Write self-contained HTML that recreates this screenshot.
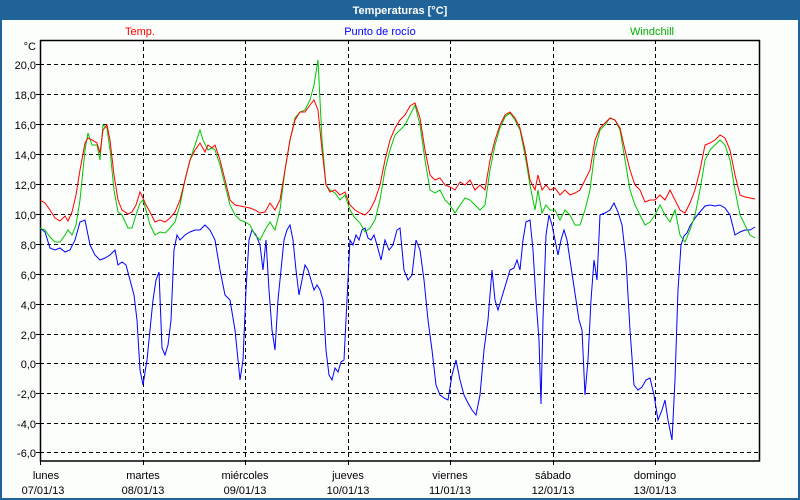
<!DOCTYPE html>
<html><head><meta charset="utf-8"><style>
html,body{margin:0;padding:0;background:#fff}
svg{display:block}
text{font-family:"Liberation Sans",sans-serif;font-size:11px}
</style></head><body>
<svg width="800" height="500" xmlns="http://www.w3.org/2000/svg">
<rect x="0" y="0" width="800" height="500" fill="#1f6399"/>
<rect x="2" y="20" width="796" height="478" fill="#fcfefc"/>
<text x="400" y="14" fill="#fff" font-weight="bold" text-anchor="middle" font-size="12">Temperaturas [°C]</text>
<text x="140" y="35" fill="#ff0000" text-anchor="middle">Temp.</text>
<text x="380" y="35" fill="#0000ff" text-anchor="middle">Punto de rocío</text>
<text x="652" y="35" fill="#00b000" text-anchor="middle">Windchill</text>
<g stroke="#000" stroke-dasharray="4,3" stroke-width="1" fill="none">
<path d="M40 64.5H760M40 94.5H760M40 124.5H760M40 154.5H760M40 184.5H760M40 214.5H760M40 244.5H760M40 274.5H760M40 304.5H760M40 334.5H760M40 363.5H760M40 393.5H760M40 423.5H760M40 452.5H760"/>
<path d="M143.5 40V461M245.5 40V461M348.5 40V461M450.5 40V461M553.5 40V461M655.5 40V461"/>
</g>
<g stroke="#000" stroke-width="1" fill="none">
<path d="M40 64.5H36M40 94.5H36M40 124.5H36M40 154.5H36M40 184.5H36M40 214.5H36M40 244.5H36M40 274.5H36M40 304.5H36M40 334.5H36M40 363.5H36M40 393.5H36M40 423.5H36M40 452.5H36"/>
<path d="M40.5 461V465M143.5 461V465M245.5 461V465M348.5 461V465M450.5 461V465M553.5 461V465M655.5 461V465"/>
</g>
<rect x="40.5" y="40.5" width="719" height="420.5" fill="none" stroke="#000" stroke-width="1.5"/>
<g text-anchor="end" fill="#000">
<text x="36" y="50">°C</text>
<text x="36" y="69">20,0</text><text x="36" y="99">18,0</text><text x="36" y="129">16,0</text><text x="36" y="159">14,0</text><text x="36" y="189">12,0</text><text x="36" y="219">10,0</text><text x="36" y="249">8,0</text><text x="36" y="279">6,0</text><text x="36" y="309">4,0</text><text x="36" y="339">2,0</text><text x="36" y="368">0,0</text><text x="36" y="398">-2,0</text><text x="36" y="428">-4,0</text><text x="36" y="457">-6,0</text>
</g>
<g text-anchor="middle" fill="#000">
<text x="46" y="479">lunes</text><text x="43" y="494">07/01/13</text>
<text x="143" y="479">martes</text><text x="143" y="494">08/01/13</text>
<text x="245" y="479">miércoles</text><text x="245" y="494">09/01/13</text>
<text x="348" y="479">jueves</text><text x="348" y="494">10/01/13</text>
<text x="450" y="479">viernes</text><text x="450" y="494">11/01/13</text>
<text x="553" y="479">sábado</text><text x="553" y="494">12/01/13</text>
<text x="655" y="479">domingo</text><text x="655" y="494">13/01/13</text>
</g>
<polyline fill="none" stroke="#0000ff" stroke-width="1" points="40,228 45,232 50,248 55,250 60,248 65,252 70,250 75,240 80,222 85,220 90,245 95,255 100,260 105,258 110,255 115,250 118,265 122,262 126,265 130,280 134,295 137,320 140,370 143,385 147,360 150,330 153,300 156,280 159,272 162,348 165,355 168,345 171,320 174,250 177,235 180,240 185,235 190,232 195,230 200,230 205,225 210,230 215,240 220,270 225,295 230,300 235,330 240,380 243,360 246,290 249,240 252,230 256,235 260,245 263,270 266,240 269,290 272,330 275,350 278,300 281,270 284,240 287,230 290,225 293,240 296,270 299,295 302,280 305,265 308,270 311,280 314,290 317,285 320,290 323,300 326,350 329,375 332,380 335,368 338,372 341,362 344,360 347,300 350,240 353,245 356,235 359,240 362,230 365,228 368,238 371,240 374,235 377,245 381,260 385,240 389,250 393,245 397,230 400,228 404,270 408,280 412,275 416,240 420,250 424,280 428,320 432,350 436,385 440,395 444,398 448,400 452,375 456,360 460,380 464,395 468,403 472,410 476,415 480,395 484,350 488,320 492,270 495,300 498,310 501,300 504,290 507,280 510,270 514,268 517,260 520,270 523,240 526,222 530,220 533,250 536,300 539,340 541,404 543,320 546,235 549,215 552,225 555,240 558,255 561,240 564,230 567,240 570,260 573,280 576,300 579,320 582,330 585,395 588,360 591,300 594,260 597,280 600,215 605,213 610,210 614,203 618,212 622,225 626,260 630,330 634,385 638,390 642,387 646,380 650,378 654,395 658,420 662,410 665,400 668,420 672,440 675,380 678,290 681,245 684,236 687,233 690,226 695,218 700,212 705,206 710,205 715,206 720,205 725,208 730,215 735,235 740,232 745,230 750,230 755,227"/>
<polyline fill="none" stroke="#00c800" stroke-width="1" points="40,228 45,230 50,237 55,242 60,242 65,235 68,230 72,235 76,225 80,200 85,150 88,133 92,145 97,145 100,160 103,125 107,128 110,150 114,190 118,212 122,215 128,228 132,228 136,215 140,203 143,200 146,210 150,225 155,235 160,232 165,233 170,228 175,222 180,205 185,180 190,160 195,145 200,130 203,140 208,150 212,148 215,150 220,165 225,185 230,205 235,215 240,220 245,222 250,225 255,235 260,240 265,230 270,222 275,230 280,210 285,170 290,140 295,118 300,112 305,110 310,100 314,85 318,60 322,140 326,185 330,190 335,193 340,200 345,195 350,210 355,218 360,223 365,232 370,228 375,220 380,200 385,170 390,150 395,135 400,130 405,125 410,115 415,105 420,125 425,160 430,190 435,193 440,190 445,200 450,205 455,213 460,205 465,198 470,200 475,205 480,210 485,205 490,170 495,145 500,128 505,117 510,113 515,120 520,130 525,155 530,185 535,210 538,190 542,213 546,205 550,210 555,210 560,220 565,210 570,215 575,225 580,225 585,210 590,190 595,150 600,130 605,125 610,118 615,120 620,130 625,160 630,190 635,205 640,215 645,225 650,222 655,215 660,205 665,215 670,222 675,210 680,235 685,242 690,230 695,215 700,190 705,160 710,150 715,145 720,140 725,145 730,160 735,190 740,215 745,225 750,235 755,238"/>
<polyline fill="none" stroke="#ff0000" stroke-width="1" points="40,200 45,203 50,210 55,218 60,221 65,216 68,221 72,212 76,195 80,170 85,143 88,138 92,140 97,143 100,153 103,130 107,125 110,140 114,175 118,200 122,210 128,214 132,212 136,205 140,192 143,198 146,205 150,212 155,222 160,220 165,222 170,218 175,212 180,200 185,180 190,160 195,150 200,143 205,152 208,145 212,148 215,145 220,160 225,180 230,200 235,205 240,206 245,207 250,208 255,210 260,213 265,212 270,203 275,210 280,200 285,170 290,140 295,120 300,112 305,112 310,105 314,100 318,110 322,150 326,185 330,192 335,190 340,195 345,192 350,205 355,210 360,213 365,215 370,210 375,200 380,185 385,160 390,140 395,128 400,120 405,115 410,106 415,103 420,118 425,150 430,175 435,180 440,178 445,185 450,187 455,190 460,182 465,185 470,180 475,190 480,185 485,190 490,160 495,140 500,125 505,115 510,112 515,118 520,128 525,150 530,180 535,190 538,175 542,190 546,185 550,190 555,188 560,195 565,190 570,195 575,193 580,190 585,180 590,170 595,140 600,128 605,123 610,118 615,120 620,128 625,150 630,170 635,185 640,190 645,202 650,200 655,200 660,195 665,200 670,190 675,200 680,210 685,213 690,203 695,190 700,170 705,145 710,143 715,140 720,135 725,138 730,150 735,175 740,195 745,197 750,198 755,199"/>
</svg>
</body></html>
